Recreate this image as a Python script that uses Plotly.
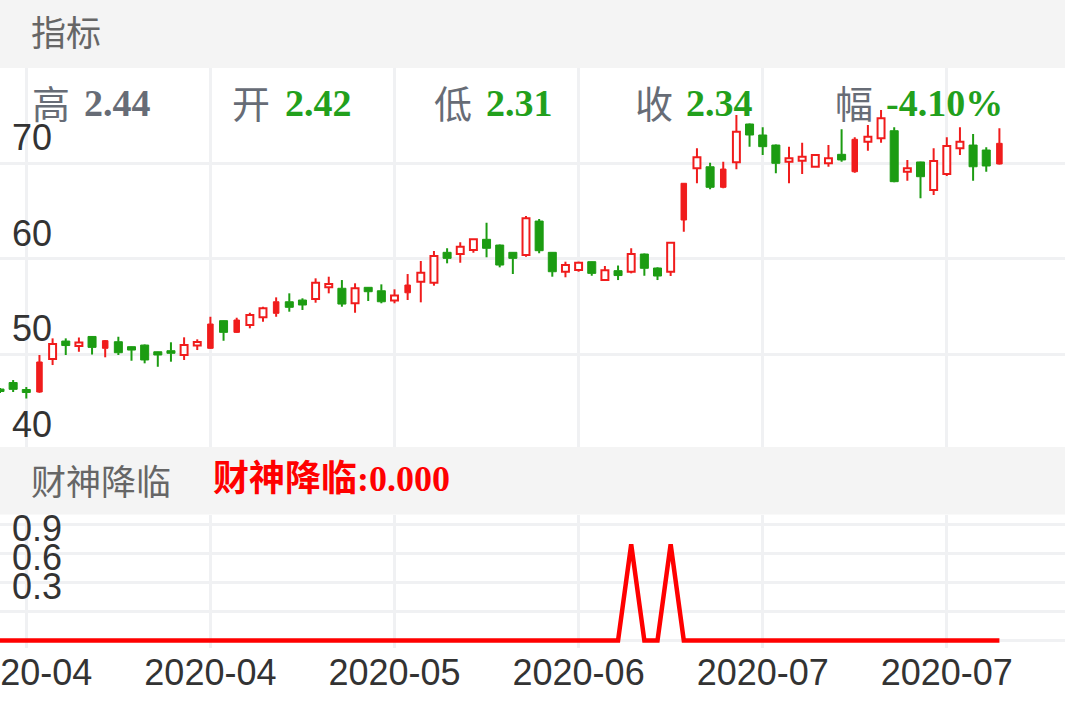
import plotly.graph_objects as go

# ---------------- data ----------------
day = list(range(77))
open_ = [46.39, 47.07, 46.34, 49.22, 49.53, 51.41, 50.89, 51.89, 51.45, 51.34,
         50.82, 50.99, 50.29, 50.40, 49.95, 50.94, 53.19, 53.54, 53.61, 53.09,
         53.89, 55.52, 55.52, 55.70, 55.81, 57.03, 56.93, 55.36, 57.03, 56.67,
         55.65, 57.27, 57.62, 57.51, 60.69, 60.51, 60.93, 62.05, 61.45, 60.69,
         60.41, 63.96, 60.69, 58.66, 58.84, 59.71, 57.79, 58.77, 58.66, 60.51,
         59.05, 58.66, 67.91, 69.48, 69.64, 69.40, 70.10, 74.11, 72.96, 71.91,
         70.17, 70.27, 69.64, 70.00, 70.94, 72.51, 72.26, 72.62, 73.41, 69.12,
         70.14, 67.21, 68.88, 71.57, 71.91, 71.39, 72.09]
high = [46.50, 47.33, 46.60, 49.95, 51.69, 51.69, 51.78, 51.94, 51.52, 51.86,
        50.84, 51.05, 50.31, 51.28, 51.80, 51.59, 53.95, 53.56, 53.85, 54.37,
        55.00, 55.98, 56.40, 55.88, 57.97, 58.14, 57.79, 57.45, 57.06, 57.34,
        56.82, 58.42, 59.78, 60.83, 61.11, 61.74, 62.08, 63.79, 61.51, 60.72,
        64.49, 64.17, 60.72, 59.71, 59.71, 59.73, 59.26, 59.31, 61.11, 60.57,
        59.12, 61.72, 67.94, 71.57, 70.06, 70.17, 75.05, 74.16, 73.77, 71.97,
        71.74, 72.15, 70.97, 71.91, 73.56, 72.72, 74.01, 75.58, 73.77, 70.35,
        70.17, 71.57, 72.72, 73.77, 73.06, 71.67, 73.66]
low = [45.97, 46.08, 45.40, 46.00, 48.90, 49.95, 50.29, 50.00, 49.71, 49.95,
       49.35, 49.08, 48.72, 49.25, 49.43, 50.47, 50.60, 51.44, 52.25, 52.74,
       53.43, 53.95, 54.48, 54.66, 55.42, 56.40, 55.00, 54.37, 55.60, 55.36,
       55.36, 55.70, 55.46, 57.20, 59.54, 59.60, 60.65, 60.17, 59.12, 58.42,
       60.23, 60.59, 58.14, 58.08, 58.66, 58.24, 57.74, 57.79, 58.49, 58.24,
       57.79, 58.21, 62.85, 67.91, 67.28, 67.39, 69.37, 71.74, 70.87, 68.95,
       67.91, 68.88, 69.61, 69.64, 70.17, 69.02, 71.32, 72.15, 68.02, 68.18,
       66.34, 66.68, 68.67, 70.87, 68.18, 69.12, 69.88]
close = [46.13, 46.36, 46.03, 46.08, 51.10, 50.94, 51.26, 50.75, 50.65, 50.19,
         50.47, 49.43, 49.95, 50.13, 50.99, 51.31, 50.65, 52.32, 52.32, 54.13,
         54.83, 54.31, 54.94, 55.18, 57.51, 57.37, 55.28, 56.93, 56.57, 55.52,
         56.17, 56.46, 58.56, 60.30, 60.06, 61.28, 62.05, 61.11, 59.36, 60.06,
         64.25, 60.86, 58.66, 59.36, 59.60, 58.49, 58.81, 58.26, 60.51, 59.02,
         58.21, 61.70, 64.07, 70.63, 67.49, 67.49, 73.31, 72.96, 71.74, 70.00,
         70.52, 70.69, 70.87, 70.52, 70.35, 69.12, 72.78, 74.71, 68.08, 69.48,
         68.60, 70.24, 71.81, 72.26, 69.64, 69.72, 69.93]
solid_red_days = [3, 8, 16, 18, 21, 31, 52, 55, 65, 76]
signal = [0, 0, 0, 0, 0, 0, 0, 0, 0, 0, 0, 0, 0, 0, 0, 0, 0, 0, 0, 0,
          0, 0, 0, 0, 0, 0, 0, 0, 0, 0, 0, 0, 0, 0, 0, 0, 0, 0, 0, 0,
          0, 0, 0, 0, 0, 0, 0, 0, 1, 0, 0, 1, 0, 0, 0, 0, 0, 0, 0, 0,
          0, 0, 0, 0, 0, 0, 0, 0, 0, 0, 0, 0, 0, 0, 0, 0, 0]
tick_days = [2, 16, 30, 44, 58, 72]
tick_labels = ["2020-04", "2020-04", "2020-05", "2020-06", "2020-07", "2020-07"]
price_ticks = [40, 50, 60, 70]
signal_ticks = [0, 0.3, 0.6, 0.9, 1.2]
signal_tick_text = ["", "0.3", "0.6", "0.9", ""]
info_labels = ["高", "开", "低", "收", "幅"]
info_values = ["2.44", "2.42", "2.31", "2.34", "-4.10%"]
header_title = "指标"
indicator_name = "财神降临"
indicator_value = "0.000"

# ---------------- styles ----------------
W, H = 1065, 708
RED = "#f01c1c"
GREEN = "#1c9c12"
GRID = "#f0f1f3"
BAND = "#f4f4f4"
AXIS_FONT = dict(family="Liberation Sans, Arial, sans-serif", size=36, color="#333333")
CJK = "Noto Sans CJK SC"
SERIF = "Liberation Serif, Noto Sans CJK SC"


def px_y(p):
    return 1 - p / H


def px_x(p):
    return p / W


up = [i for i in day if close[i] >= open_[i]]
down_red = [i for i in day if close[i] < open_[i] and i in solid_red_days]
down_green = [i for i in day if close[i] < open_[i] and i not in solid_red_days]

fig = go.Figure()


def wick_trace(idx, color):
    xs, ys = [], []
    for i in idx:
        top = max(open_[i], close[i])
        bot = min(open_[i], close[i])
        xs += [day[i], day[i], None, day[i], day[i], None]
        ys += [high[i], top, None, bot, low[i], None]
    return go.Scatter(x=xs, y=ys, mode="lines", line=dict(color=color, width=2),
                      hoverinfo="skip", xaxis="x", yaxis="y")


def body_trace(idx, width, fill, line_color, line_width):
    return go.Bar(x=[day[i] for i in idx],
                  base=[min(open_[i], close[i]) for i in idx],
                  y=[abs(close[i] - open_[i]) for i in idx],
                  width=width,
                  marker=dict(color=fill, line=dict(color=line_color, width=line_width)),
                  xaxis="x", yaxis="y")


fig.add_trace(body_trace(up, 0.53, "white", RED, 2))
fig.add_trace(body_trace(down_green, 0.61, GREEN, GREEN, 1))
fig.add_trace(body_trace(down_red, 0.42, RED, RED, 1))
fig.add_trace(wick_trace(up + down_red, RED))
fig.add_trace(wick_trace(down_green, GREEN))

fig.add_trace(go.Scatter(x=day, y=signal, mode="lines",
                         line=dict(color="#ff0000", width=4.5),
                         xaxis="x2", yaxis="y2"))

xr = [0, W / 13.15]
common_x = dict(range=xr, tickvals=tick_days, showgrid=True, gridcolor=GRID,
                gridwidth=2.5, zeroline=False, showline=False, ticks="",
                fixedrange=True, automargin=False)
fig.update_layout(
    width=W, height=H, margin=dict(l=0, r=0, t=0, b=0, pad=0, autoexpand=False),
    paper_bgcolor="white", plot_bgcolor="white", showlegend=False,
    barmode="overlay",
    xaxis=dict(domain=[0, 1], anchor="y", showticklabels=False, **common_x),
    yaxis=dict(domain=[px_y(451), px_y(67.7)], range=[39.91, 80], anchor="x",
               tickvals=price_ticks, showgrid=True, gridcolor=GRID, gridwidth=2.5,
               zeroline=False, showline=False, ticks="", automargin=False,
               ticklabelposition="inside", ticklabelshift=-26, ticklabelstandoff=9,
               ticklabeloverflow="allow", tickfont=AXIS_FONT),
    xaxis2=dict(domain=[0, 1], anchor="y2", ticktext=tick_labels,
                ticklabeloverflow="allow", tickfont=AXIS_FONT, **common_x),
    yaxis2=dict(domain=[px_y(648), px_y(515)], range=[-0.0779, 1.3032], anchor="x2",
                tickvals=signal_ticks, ticktext=signal_tick_text,
                showgrid=True, gridcolor=GRID, gridwidth=2.5,
                zeroline=False, showline=False, ticks="", automargin=False,
                ticklabelposition="inside", ticklabelshift=-25, ticklabelstandoff=9,
                ticklabeloverflow="allow", tickfont=AXIS_FONT),
)

# header bands
fig.add_shape(type="rect", xref="paper", yref="paper", x0=0, x1=1,
              y0=px_y(68), y1=1, fillcolor=BAND, line_width=0, layer="above")
fig.add_shape(type="rect", xref="paper", yref="paper", x0=0, x1=1,
              y0=px_y(514.5), y1=px_y(447), fillcolor=BAND, line_width=0, layer="above")

ann = []
ann.append(dict(text=header_title, x=px_x(29), y=px_y(31), xanchor="left", yanchor="middle",
                font=dict(family=CJK, size=35, color="#666666")))
col_x = [30, 230, 432, 633, 833]
num_x = [82, 283, 484, 684, 884]
for k in range(len(info_labels)):
    ann.append(dict(text=info_labels[k], x=px_x(col_x[k]), y=px_y(101), xanchor="left",
                    yanchor="middle", font=dict(family=CJK, size=38, color="#676c76")))
    ann.append(dict(text="<b>" + info_values[k] + "</b>", x=px_x(num_x[k]), y=px_y(103),
                    xanchor="left", yanchor="middle",
                    font=dict(family=SERIF, size=38,
                              color="#676c76" if k == 0 else "#22a01c")))
ann.append(dict(text=indicator_name, x=px_x(29), y=px_y(479), xanchor="left", yanchor="middle",
                font=dict(family=CJK, size=35, color="#666666")))
ann.append(dict(text="<b>" + indicator_name + ":" + indicator_value + "</b>", x=px_x(211),
                y=px_y(479), xanchor="left", yanchor="middle",
                font=dict(family=SERIF, size=36, color="#ff0000")))
for a in ann:
    a.update(xref="paper", yref="paper", showarrow=False)
fig.update_layout(annotations=ann)

fig.write_html("out.html", config={"displayModeBar": False},
               post_script="document.body.style.margin='0';document.body.style.overflow='hidden';")
